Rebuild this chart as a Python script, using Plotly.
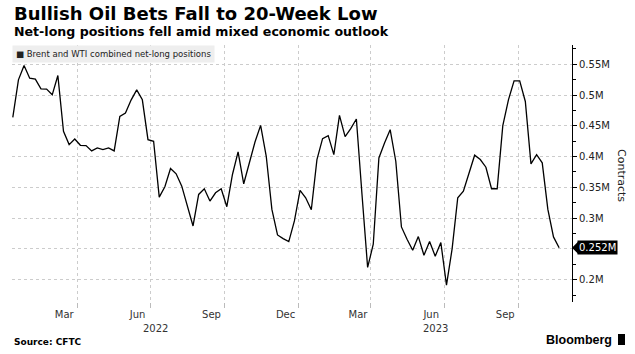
import pandas as pd
import plotly.graph_objects as go

# ---- data (net-long positions, millions of contracts), weekly ----
start_date = "2022-01-11"
net_long_m = [
    0.4636, 0.5246, 0.5478, 0.5273, 0.5257, 0.5100, 0.5095, 0.5003, 0.5316, 0.4410,
    0.4194, 0.4286, 0.4183, 0.4178, 0.4092, 0.4140, 0.4113, 0.4140, 0.4092, 0.4653,
    0.4707, 0.4917, 0.5084, 0.4922, 0.4275, 0.4248, 0.3342, 0.3509, 0.3806, 0.3720,
    0.3520, 0.3196, 0.2873, 0.3385, 0.3477, 0.3277, 0.3412, 0.3477, 0.3186, 0.3709,
    0.4076, 0.3558, 0.3898, 0.4237, 0.4507, 0.4005, 0.3142, 0.2727, 0.2668, 0.2619,
    0.2954, 0.3450, 0.3331, 0.3137, 0.3951, 0.4291, 0.4340, 0.4032, 0.4669, 0.4324,
    0.4453, 0.4610, 0.3385, 0.2199, 0.2576, 0.3978, 0.4221, 0.4437, 0.3924, 0.2857,
    0.2657, 0.2479, 0.2700, 0.2398, 0.2619, 0.2382, 0.2603, 0.1913, 0.2500, 0.3331,
    0.3439, 0.3736, 0.4022, 0.3951, 0.3827, 0.3477, 0.3477, 0.4502, 0.4922, 0.5230,
    0.5230, 0.4895, 0.3881, 0.4032, 0.3898, 0.3142, 0.2695, 0.2520,
]
dates = pd.date_range(start_date, periods=len(net_long_m), freq="7D")

x_range = ["2022-01-10", "2023-12-07"]
grid_dates = ["2022-04-01", "2022-07-01", "2022-10-01", "2023-01-01",
              "2023-04-01", "2023-07-01", "2023-10-01"]
month_label_dates = ["2022-03-16", "2022-06-15", "2022-09-15", "2022-12-16",
                     "2023-03-16", "2023-06-15", "2023-09-15"]
month_labels = ["Mar", "Jun", "Sep", "Dec", "Mar", "Jun", "Sep"]
years = ["2022", "2023"]
y_ticks = [0.2, 0.25, 0.3, 0.35, 0.4, 0.45, 0.5, 0.55]
# 0.25M is hidden behind the last-value tag in the reference
y_tick_text = ["0.2M", "", "0.3M", "0.35M", "0.4M", "0.45M", "0.5M", "0.55M"]

title = "Bullish Oil Bets Fall to 20-Week Low"
subtitle = "Net-long positions fell amid mixed economic outlook"
legend_text = "Brent and WTI combined net-long positions"
source = "Source: CFTC"

W, H = 635, 354
ML, MR, MT, MB = 12, 63, 45, 52
PW, PH = W - ML - MR, H - MT - MB
Y_RANGE = [0.1638, 0.5812]

def py(pix):  # pixel row -> paper y
    return (H - MB - pix) / PH

def px(pix):  # pixel col -> paper x
    return (pix - ML) / PW

FONT = "DejaVu Sans"
GRID = "#cccccc"

fig = go.Figure()
fig.add_trace(go.Scatter(x=dates, y=net_long_m, mode="lines",
                         line=dict(color="#000000", width=1.3),
                         showlegend=False, hoverinfo="skip"))

fig.update_layout(
    width=W, height=H, margin=dict(l=ML, r=MR, t=MT, b=MB),
    paper_bgcolor="white", plot_bgcolor="white",
    font=dict(family=FONT, size=10, color="#222222"),
    showlegend=False,
)
fig.update_xaxes(
    type="date", range=x_range, showgrid=False, zeroline=False, showline=False,
    tickmode="array", tickvals=month_label_dates, ticktext=month_labels, ticks="",
    ticklabelstandoff=5,
    tickfont=dict(size=10, color="#333333"),
    minor=dict(tickmode="array", tickvals=grid_dates, ticks="outside", ticklen=5,
               tickcolor="#bbbbbb", showgrid=True, gridcolor=GRID, griddash="dot",
               gridwidth=1),
)
fig.update_yaxes(
    side="right", range=Y_RANGE, tickmode="array", tickvals=y_ticks,
    ticktext=y_tick_text, ticks="outside", ticklen=4, tickcolor="#000000",
    showline=True, linecolor="#000000", linewidth=1,
    showgrid=True, gridcolor=GRID, griddash="dot", zeroline=False,
    tickfont=dict(size=10, color="#222222"),
    minor=dict(dtick=0.025, tick0=0, ticks="outside", ticklen=3, tickcolor="#000000",
               showgrid=False),
)

ann = []
ann.append(dict(text=f"<b>{title}</b>", x=0, y=py(14), xref="paper", yref="paper",
                xanchor="left", yanchor="middle", showarrow=False,
                font=dict(family=FONT, size=18, color="#000000")))
ann.append(dict(text=f"<b>{subtitle}</b>", x=0, y=py(32), xref="paper", yref="paper",
                xanchor="left", yanchor="middle", showarrow=False,
                font=dict(family=FONT, size=12.6, color="#000000")))
ann.append(dict(text="■ " + legend_text, x=0, y=1, xref="paper", yref="paper",
                xanchor="left", yanchor="top", showarrow=False, bgcolor="#eeeeee",
                borderpad=3, font=dict(family=FONT, size=8.5, color="#222222")))
# year labels centred on each year's visible span
x0 = pd.Timestamp(x_range[0]); x1 = pd.Timestamp(x_range[1]); yb = pd.Timestamp("2023-01-01")
for yr, a, b in [(years[0], x0, yb), (years[1], yb, x1)]:
    ann.append(dict(text=yr, x=a + (b - a) / 2, y=py(328), xref="x", yref="paper",
                    xanchor="center", yanchor="middle", showarrow=False,
                    font=dict(family=FONT, size=10, color="#333333")))
ann.append(dict(text=f"<b>{source}</b>", x=0, y=py(342), xref="paper", yref="paper",
                xanchor="left", yanchor="middle", showarrow=False,
                font=dict(family=FONT, size=9, color="#000000")))
ann.append(dict(text="<b>Bloomberg</b>", x=px(614), y=py(340), xref="paper", yref="paper",
                xanchor="right", yanchor="middle", showarrow=False,
                font=dict(family="Liberation Sans", size=12.5, color="#000000")))
ann.append(dict(text="Contracts", x=px(622), y=py(175), xref="paper", yref="paper",
                xanchor="center", yanchor="middle", showarrow=False, textangle=90,
                font=dict(family=FONT, size=11, color="#222222")))
last = net_long_m[-1]
ann.append(dict(text=f"{last:.3f}M", x=1, y=last, xref="paper", yref="y",
                xanchor="left", yanchor="middle", xshift=5, showarrow=False,
                bgcolor="#000000", borderpad=1,
                font=dict(family=FONT, size=10, color="#ffffff")))
fig.update_layout(annotations=ann)

# pointer of the last-value tag and Bloomberg mark
dy = 6 / PH * (Y_RANGE[1] - Y_RANGE[0])
fig.add_shape(type="path", xref="paper", yref="y",
              path=f"M 1 {last} L {px(578)} {last + dy} L {px(578)} {last - dy} Z",
              fillcolor="#000000", line=dict(width=0))
fig.add_shape(type="rect", xref="paper", yref="paper",
              x0=px(618), x1=px(625), y0=py(345), y1=py(334),
              fillcolor="#000000", line=dict(width=0))

fig.write_html("out.html")
